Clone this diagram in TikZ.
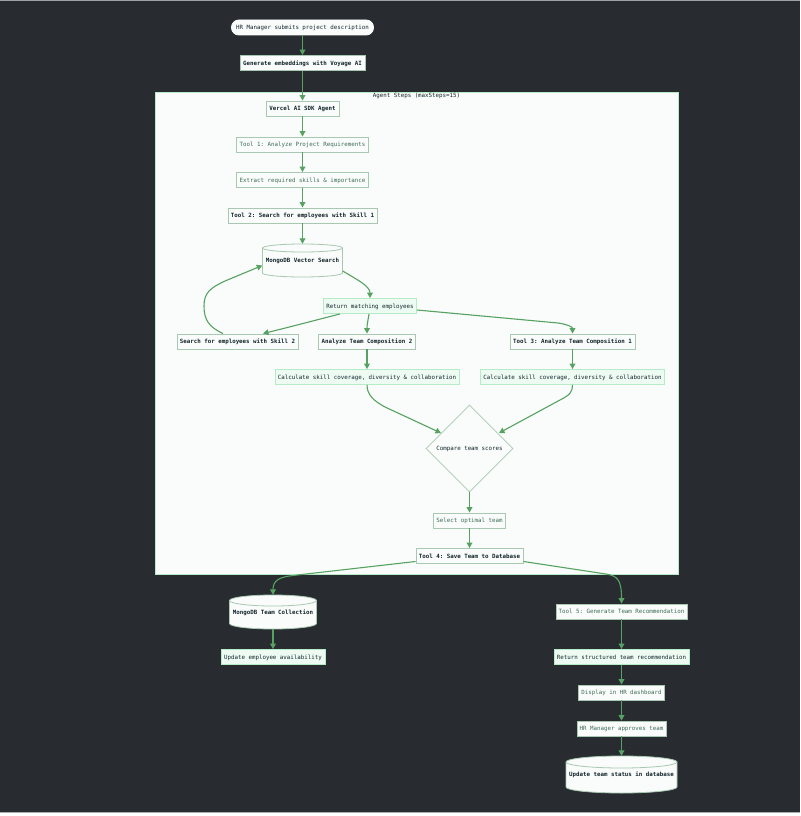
\documentclass[tikz,border=0pt]{standalone}
\usepackage{fontspec}
\setmonofont{DejaVu Sans Mono}
\usetikzlibrary{arrows.meta,shapes.geometric}
\definecolor{bgdark}{HTML}{282C31}
\definecolor{panel}{HTML}{F9FCFA}
\definecolor{edgegreen}{HTML}{57A262}
\definecolor{boxgreen}{HTML}{A9C8B2}
\definecolor{mintline}{HTML}{B5EBC6}
\definecolor{mintfill}{HTML}{EEFBF3}
\definecolor{inktext}{HTML}{14252C}
\definecolor{softtext}{HTML}{3E6B57}
\tikzset{
 x=1pt,y=-1pt,
 basebox/.style={draw=boxgreen,line width=.95pt,fill=panel,font=\ttfamily\fontsize{5.8}{7}\selectfont,text=inktext,minimum height=15pt,inner sep=0pt,text height=5.6pt,text depth=.8pt,anchor=center},
 boldbox/.style={basebox,font=\ttfamily\bfseries\fontsize{5.8}{7}\selectfont},
 softbox/.style={basebox,text=softtext},
 mintbox/.style={basebox,draw=mintline,fill=mintfill},
 pill/.style={basebox,rounded corners=7.5pt,draw=panel},
 thediamond/.style={basebox,diamond,aspect=1,minimum width=87pt,minimum height=87pt,line width=.7pt},
 conn/.style={draw=edgegreen,line width=1.1pt,-{Triangle[length=5.5pt,width=5.8pt]}},
 dbbody/.style={draw=boxgreen,line width=.8pt,fill=panel},
 dbtext/.style={font=\ttfamily\bfseries\fontsize{5.8}{7}\selectfont,text=inktext,inner sep=0pt,text height=5.6pt,text depth=.8pt},
}
% name cx top w ry h text
\newcommand{\dbshape}[7]{%
 \path[dbbody] (#2-#4/2,#3+#5) .. controls (#2-#4/2,#3+#5-.5523*#5) and (#2-.5523*#4/2,#3) .. (#2,#3)
   .. controls (#2+.5523*#4/2,#3) and (#2+#4/2,#3+#5-.5523*#5) .. (#2+#4/2,#3+#5)
   -- (#2+#4/2,#3+#6-#5) .. controls (#2+#4/2,#3+#6-#5+.5523*#5) and (#2+.5523*#4/2,#3+#6) .. (#2,#3+#6)
   .. controls (#2-.5523*#4/2,#3+#6) and (#2-#4/2,#3+#6-#5+.5523*#5) .. (#2-#4/2,#3+#6-#5) -- cycle;
 \path[draw=boxgreen,line width=.8pt] (#2-#4/2,#3+#5) .. controls (#2-#4/2,#3+#5+.5523*#5) and (#2-.5523*#4/2,#3+2*#5) .. (#2,#3+2*#5)
   .. controls (#2+.5523*#4/2,#3+2*#5) and (#2+#4/2,#3+#5+.5523*#5) .. (#2+#4/2,#3+#5);
 \node[dbtext,minimum width=#4 pt,minimum height=#6 pt] (#1) at (#2,#3+#6/2) {#7};
}
\begin{document}
\begin{tikzpicture}
\useasboundingbox (0,0) rectangle (800,816);
\fill[bgdark] (0,0) rectangle (800,816);
\fill[white] (0,813) rectangle (800,816);
\fill[white!60!bgdark] (0,812) rectangle (800,813);
\fill[white!55!bgdark] (0,0) rectangle (800,1.2);
\path[draw=mintline,fill=panel,line width=.8pt] (155.5,92) rectangle (678.5,574);
\node[font=\ttfamily\fontsize{5.8}{7}\selectfont,text=inktext,inner sep=0pt,text height=5.6pt,text depth=.8pt] (grp) at (416.5,95) {Agent Steps (maxSteps=15)};

\node[pill,minimum width=142pt] (a) at (302.5,27.5) {HR Manager submits project description};
\node[boldbox,minimum width=125pt] (b) at (302.5,63) {Generate embeddings with Voyage AI};
\node[boldbox,minimum width=73pt] (c) at (302.5,108.5) {Vercel AI SDK Agent};
\node[softbox,minimum width=132pt] (d) at (302.5,144.5) {Tool 1: Analyze Project Requirements};
\node[softbox,minimum width=132pt] (e) at (302.5,180) {Extract required skills \& importance};
\node[boldbox,minimum width=149pt] (f) at (302.5,215.5) {Tool 2: Search for employees with Skill 1};
\dbshape{g}{302.5}{244}{80}{4}{33}{MongoDB Vector Search}
\node[mintbox,minimum width=93pt] (h) at (370,306) {Return matching employees};
\node[boldbox,minimum width=121pt] (i) at (237.5,341.5) {Search for employees with Skill 2};
\node[boldbox,minimum width=97pt] (j) at (367,341.5) {Analyze Team Composition 2};
\node[boldbox,minimum width=125pt] (k) at (572.5,341.5) {Tool 3: Analyze Team Composition 1};
\node[mintbox,minimum width=184pt] (l) at (367,377) {Calculate skill coverage, diversity \& collaboration};
\node[mintbox,minimum width=184pt] (m) at (572.5,377) {Calculate skill coverage, diversity \& collaboration};
\node[thediamond] (n) at (469.5,448.5) {Compare team scores};
\node[softbox,minimum width=72pt] (o) at (469.5,520.5) {Select optimal team};
\node[boldbox,minimum width=107pt] (p) at (469.5,556) {Tool 4: Save Team to Database};
\dbshape{q}{273}{595}{87}{5.5}{34}{MongoDB Team Collection}
\node[mintbox,minimum width=104pt] (r) at (273,657) {Update employee availability};
\node[softbox,minimum width=131pt] (s) at (621.5,611.5) {Tool 5: Generate Team Recommendation};
\node[mintbox,minimum width=135pt] (t) at (621.5,657) {Return structured team recommendation};
\node[softbox,minimum width=86pt] (u) at (621.5,692.5) {Display in HR dashboard};
\node[softbox,minimum width=89pt] (v) at (621.5,728.5) {HR Manager approves team};
\dbshape{w}{621.5}{756}{111}{6}{37}{Update team status in database}

\draw[conn] (a) -- (b);
\draw[conn] (b) -- (c);
\draw[conn] (c) -- (d);
\draw[conn] (d) -- (e);
\draw[conn] (e) -- (f);
\draw[conn] (f.south) -- (g.north);
\draw[conn] ([yshift=-10.5pt]g.east) .. controls (356,279) and (370,286) .. (h.north);
\draw[conn] ([xshift=-30pt]h.south) .. controls (320,319) and (290,327) .. ([xshift=25.5pt]i.north);
\draw[conn] ([xshift=-14.5pt]i.north) .. controls (209,327) and (204,320) .. (204,306) .. controls (204,293) and (210,288) .. (225,281) -- ([yshift=-5pt]g.west);
\draw[conn] ([xshift=-1pt]h.south) .. controls (368,320) and (367,325) .. (j.north);
\draw[conn] ([yshift=-4pt]h.east) -- (558,323) .. controls (568,324.5) and (572.5,327) .. (k.north);
\draw[conn] (j) -- (l);
\draw[conn] (k) -- (m);
\draw[conn] (l.south) .. controls (367,395) and (374,401) .. (385,407) -- (441,433);
\draw[conn] (m.south) .. controls (572.5,392) and (570,395) .. (560,400) -- (499,433);
\draw[conn] (n.south) -- (o.north);
\draw[conn] (o) -- (p);
\draw[conn] ([yshift=-5.5pt]p.west) -- (293,575.5) .. controls (280,577) and (273,580) .. (q.north);
\draw[conn] (q.south) -- (r.north);
\draw[conn] ([yshift=-5.5pt]p.east) -- (606,574) .. controls (617,576) and (621.5,579) .. (s.north);
\draw[conn] (s) -- (t);
\draw[conn] (t) -- (u);
\draw[conn] (u) -- (v);
\draw[conn] (v.south) -- (w.north);
\end{tikzpicture}
\end{document}
